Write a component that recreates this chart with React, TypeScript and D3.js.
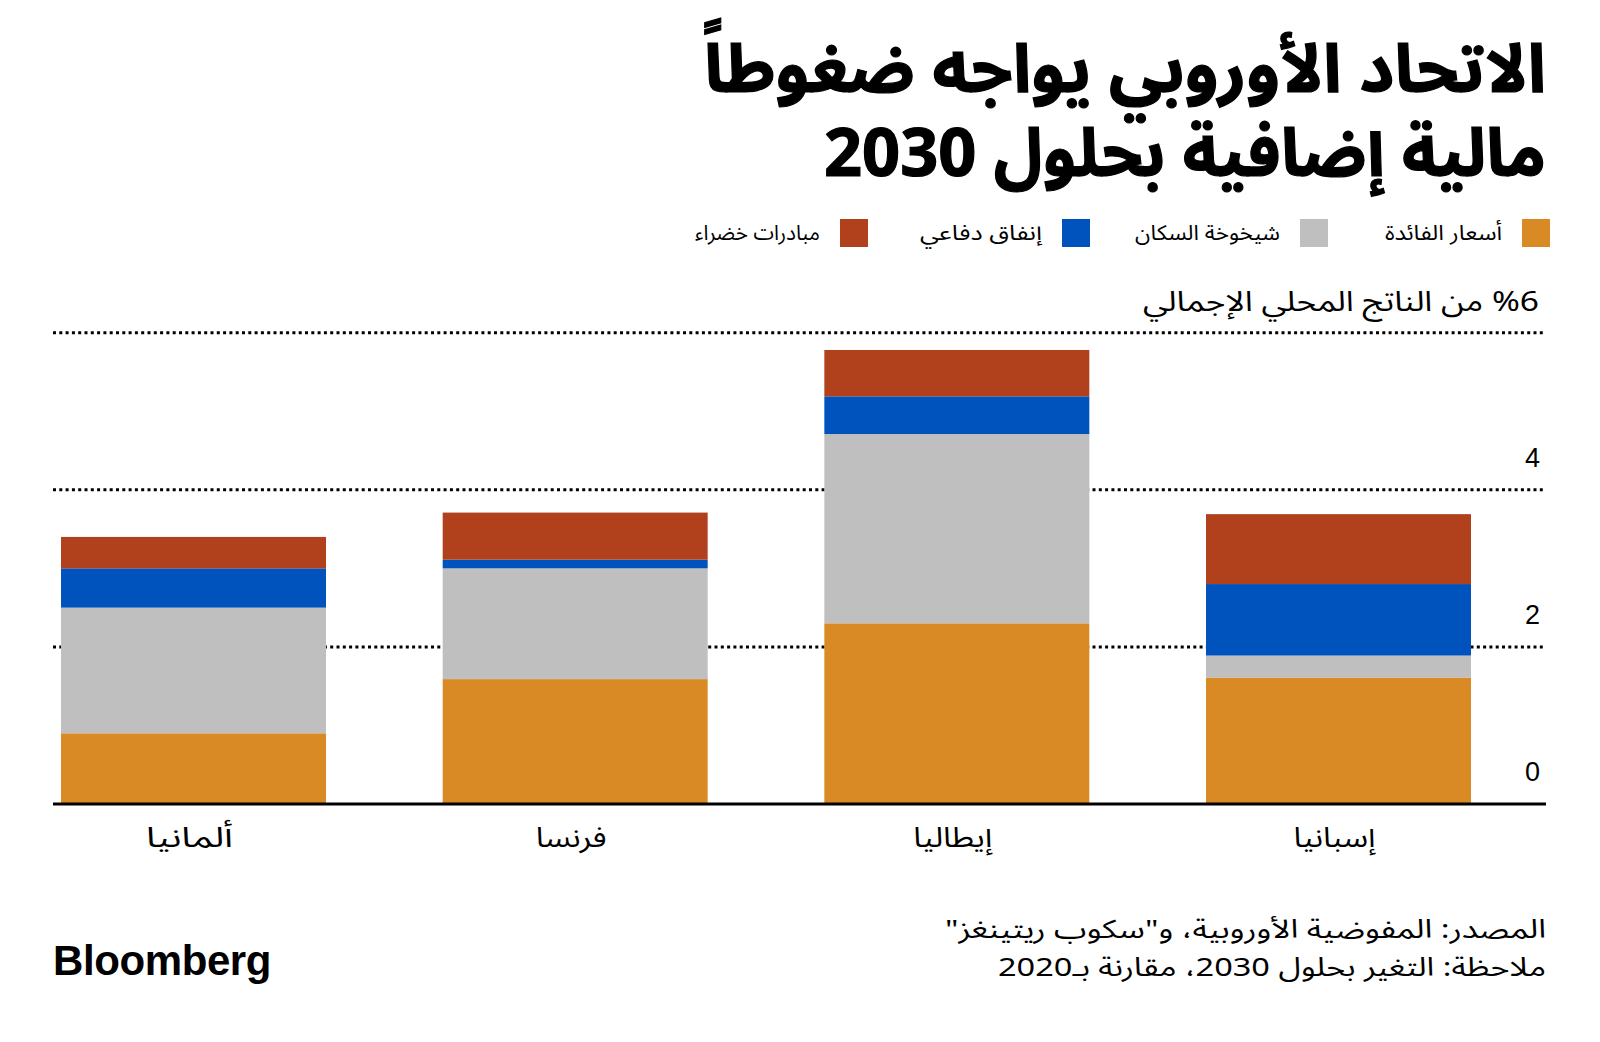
import React from "react";
import * as d3 from "d3";

const categories = ["ألمانيا", "فرنسا", "إيطاليا", "إسبانيا"];
const seriesNames = ["أسعار الفائدة", "شيخوخة السكان", "إنفاق دفاعي", "مبادرات خضراء"];
const seriesColors = ["#DA8A25", "#BFBFBF", "#0052BD", "#B1401D"];
const interestRates = [0.9, 1.59, 2.3, 1.61];
const ageing = [1.6, 1.41, 2.41, 0.28];
const defence = [0.5, 0.11, 0.48, 0.91];
const green = [0.4, 0.6, 0.59, 0.89];
const yTicks = [0, 2, 4, 6];
const tickLabels = ["0", "2", "4", "%6 من الناتج المحلي الإجمالي"];
const titleLines = ["الاتحاد الأوروبي يواجه ضغوطاً", "مالية إضافية بحلول 2030"];
const footerLines = ["المصدر: المفوضية الأوروبية، و\"سكوب ريتينغز\"", "ملاحظة: التغير بحلول 2030، مقارنة بـ2020"];

// approximate rendered widths of texts in the reference (for textLength fitting)
const titleWidths = [842, 722];
const legendWidths = [117, 145, 122, 125];
const categoryWidths = [87, 71, 79, 82];
const footerWidths = [601, 548];
const yTitleWidth = 396;

const W = 1600;
const H = 1042;
const AR = "'Noto Sans Arabic', 'DejaVu Sans', sans-serif";
const LAT = "'Liberation Sans', Arial, sans-serif";

export default function App() {
  const keys = ["interest", "ageing", "defence", "green"];
  const rows = categories.map((c, i) => ({
    cat: c,
    interest: interestRates[i],
    ageing: ageing[i],
    defence: defence[i],
    green: green[i],
  }));
  const stack = d3.stack<any>().keys(keys)(rows);

  const x = d3
    .scaleBand<string>()
    .domain(categories)
    .range([53, 1479])
    .paddingInner(0.3057)
    .paddingOuter(0.021);
  const y = d3.scaleLinear().domain([0, 6]).range([804, 332.7]);

  const plotLeft = 53;
  const plotRight = 1546;

  const legendSwatchRight = [1550, 1328, 1090, 868];

  return (
    <svg
      width={W}
      height={H}
      style={{ position: "absolute", left: 0, top: 0, background: "#fff" }}
    >
      <rect x={0} y={0} width={W} height={H} fill="#fff" />
      {/* title */}
      {titleLines.map((t, i) => (
        <text
          key={i}
          x={1546}
          y={92 + i * 84}
          direction="rtl"
          textAnchor="start"
          fontFamily={AR}
          fontWeight={700}
          fontSize={67}
          stroke="#000"
          strokeWidth={1.2}
          textLength={titleWidths[i]}
          lengthAdjust="spacingAndGlyphs"
          fill="#000"
        >
          {t}
        </text>
      ))}
      {/* legend */}
      {seriesNames.map((s, i) => (
        <g key={s}>
          <rect
            x={legendSwatchRight[i] - 28}
            y={219}
            width={28}
            height={28}
            fill={seriesColors[i]}
          />
          <text
            x={legendSwatchRight[i] - 48}
            y={240}
            direction="rtl"
            textAnchor="start"
            fontFamily={AR}
            fontSize={21}
            textLength={legendWidths[i]}
            lengthAdjust="spacingAndGlyphs"
            fill="#000"
          >
            {s}
          </text>
        </g>
      ))}
      {/* gridlines */}
      {yTicks
        .filter((t) => t > 0)
        .map((t) => (
          <line
            key={t}
            x1={plotLeft}
            x2={plotRight}
            y1={y(t)}
            y2={y(t)}
            stroke="#000"
            strokeWidth={3}
            strokeDasharray="3,3.3"
          />
        ))}
      {/* tick labels */}
      {yTicks.map((t, i) =>
        i === 3 ? (
          <text
            key={t}
            x={1539}
            y={y(t) - 22}
            direction="rtl"
            textAnchor="start"
            fontFamily={AR}
            fontSize={28}
            textLength={yTitleWidth}
            lengthAdjust="spacingAndGlyphs"
            fill="#000"
          >
            {tickLabels[i]}
          </text>
        ) : (
          <text
            key={t}
            x={1540}
            y={y(t) - 23}
            textAnchor="end"
            fontFamily={LAT}
            fontSize={27}
            fill="#000"
          >
            {tickLabels[i]}
          </text>
        )
      )}
      {/* bars */}
      {stack.map((layer, li) => (
        <g key={layer.key} fill={seriesColors[li]}>
          {layer.map((d, ci) => (
            <rect
              key={ci}
              x={x(categories[ci])}
              width={x.bandwidth()}
              y={y(d[1])}
              height={y(d[0]) - y(d[1])}
            />
          ))}
        </g>
      ))}
      {/* baseline */}
      <line x1={plotLeft} x2={plotRight} y1={y(0)} y2={y(0)} stroke="#000" strokeWidth={3} />
      {/* category labels */}
      {categories.map((c, i) => {
        const cx = (x(c) as number) + x.bandwidth() / 2;
        return (
          <text
            key={c}
            x={cx + categoryWidths[i] / 2 - 4}
            y={847}
            direction="rtl"
            textAnchor="start"
            fontFamily={AR}
            fontSize={28}
            textLength={categoryWidths[i]}
            lengthAdjust="spacingAndGlyphs"
            fill="#000"
          >
            {c}
          </text>
        );
      })}
      {/* footer */}
      {footerLines.map((t, i) => (
        <text
          key={i}
          x={1546}
          y={938 + i * 38}
          direction="rtl"
          textAnchor="start"
          fontFamily={AR}
          fontSize={26}
          textLength={footerWidths[i]}
          lengthAdjust="spacingAndGlyphs"
          fill="#000"
        >
          {t}
        </text>
      ))}
      <text
        x={53}
        y={975}
        fontFamily={LAT}
        fontWeight={700}
        fontSize={42}
        letterSpacing={-0.4}
        fill="#000"
      >
        Bloomberg
      </text>
    </svg>
  );
}
